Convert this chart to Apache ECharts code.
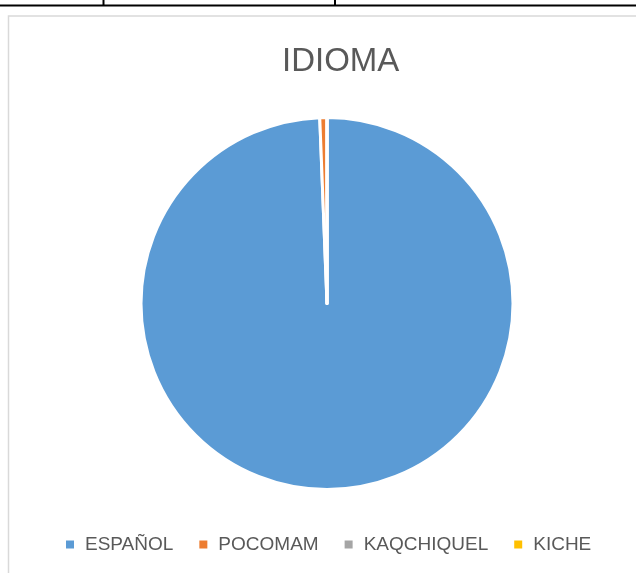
<!DOCTYPE html>
<html>
<head>
<meta charset="utf-8">
<script src="https://cdn.jsdelivr.net/npm/echarts@6/dist/echarts.min.js"></script>
<style>
html,body{margin:0;padding:0;background:#fff;}
#c{width:636px;height:573px;}
</style>
</head>
<body>
<div id="c"></div>
<script>
const categories = ['ESPAÑOL', 'POCOMAM', 'KAQCHIQUEL', 'KICHE'];
const values = [160, 1, 0, 0];
const colors = ['#5B9BD5', '#ED7D31', '#A5A5A5', '#FFC000'];
const chartTitle = 'IDIOMA';

const chart = echarts.init(document.getElementById('c'), null, {renderer: 'canvas'});
chart.setOption({
  animation: false,
  backgroundColor: '#ffffff',
  color: colors,
  title: {
    text: chartTitle,
    left: 282,
    top: 45,
    padding: 0,
    textStyle: {fontFamily: 'Liberation Sans', fontSize: 33, fontWeight: 'normal', color: '#595959'}
  },
  legend: {
    data: categories,
    left: 64,
    top: 535,
    padding: 0,
    icon: 'rect',
    itemWidth: 10,
    itemHeight: 10,
    itemGap: 24,
    textStyle: {fontFamily: 'Liberation Sans', fontSize: 19, color: '#595959', padding: [0, 0, 0, 5]}
  },
  graphic: [
    {type: 'line', shape: {x1: 0, y1: 5.5, x2: 636, y2: 5.5}, style: {stroke: '#000', lineWidth: 2}},
    {type: 'line', shape: {x1: 103.5, y1: 0, x2: 103.5, y2: 5}, style: {stroke: '#000', lineWidth: 2}},
    {type: 'line', shape: {x1: 335, y1: 0, x2: 335, y2: 5}, style: {stroke: '#000', lineWidth: 2}},
    {type: 'rect', shape: {x: 8.5, y: 16, width: 700, height: 700}, style: {fill: 'none', stroke: '#d9d9d9', lineWidth: 1.5}}
  ],
  series: [{
    type: 'pie',
    center: [327, 303.5],
    radius: 186,
    startAngle: 90,
    clockwise: true,
    label: {show: false},
    labelLine: {show: false},
    emphasis: {disabled: true},
    itemStyle: {borderColor: '#ffffff', borderWidth: 3},
    data: categories.map((n, i) => ({name: n, value: values[i]}))
  }]
});
</script>
</body>
</html>
